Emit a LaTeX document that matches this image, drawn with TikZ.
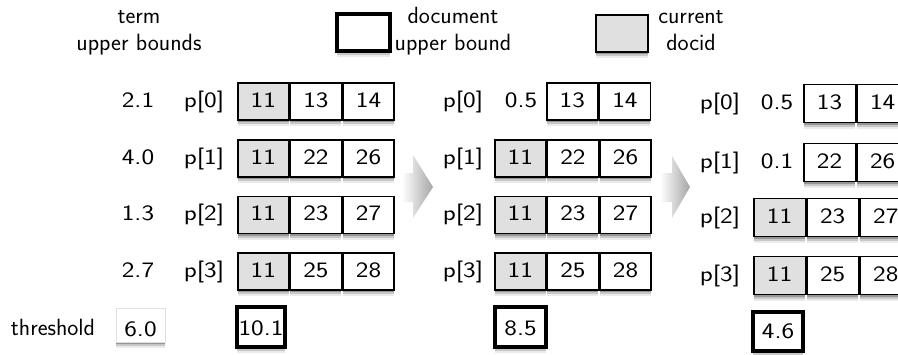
\documentclass[tikz,border=0pt]{standalone}
\usetikzlibrary{shadows}
\definecolor{cellgray}{RGB}{224,224,224}
\definecolor{arrowgray}{RGB}{165,165,165}
\newcommand\R[1]{\scalebox{1.22}[1]{#1}}
\begin{document}
\begin{tikzpicture}[x=1pt,y=-1pt,
  font=\sffamily\fontsize{22}{26}\selectfont,
  shad/.style={drop shadow={shadow xshift=0pt, shadow yshift=-6pt, opacity=0.08, fill=black},
               drop shadow={shadow xshift=0pt, shadow yshift=-4pt, opacity=0.15, fill=black},
               drop shadow={shadow xshift=0pt, shadow yshift=-2pt, opacity=0.25, fill=black}},
  cell/.style={draw, line width=1.6pt, minimum width=51pt, minimum height=37pt, inner sep=0pt,
    text height=14.3pt, text depth=3pt, fill=white, shad, anchor=west},
  cur/.style={cell, fill=cellgray},
  cellC/.style={cell, minimum width=51.5pt, minimum height=38pt},
  curC/.style={cellC, fill=cellgray},
  lbl/.style={inner sep=0pt, text height=14.3pt, text depth=3pt},
  leg/.style={inner sep=0pt, anchor=base, font=\sffamily\fontsize{23.5}{28}\selectfont},
  ubbox/.style={draw, line width=3.5pt, fill=white, shad, inner sep=0pt,
    minimum width=50pt, minimum height=40pt, text height=17pt, text depth=0pt},
  chev/.style={left color=white, right color=arrowgray}
]
\useasboundingbox (0,0) rectangle (898,354);
\fill[white] (0,0) rectangle (898,354);

% legend
\node[leg] (lt1) at (139,23) {term};
\node[leg] (lt2) at (139,50) {upper bounds};
\node[ubbox, minimum width=53pt, minimum height=37pt] (legub) at (363.5,32.5) {};
\node[leg] (ld1) at (453,23) {document};
\node[leg] (ld2) at (453,50) {upper bound};
\node[draw, line width=1.6pt, fill=cellgray, shad, inner sep=0pt, minimum width=52pt, minimum height=37pt] (legcur) at (622,33.5) {};
\node[leg] (lc1) at (691,23) {current};
\node[leg] (lc2) at (691,50) {docid};

% column 1
\node[lbl] (u0) at (138,101.5) {\R{2.1}};
\node[lbl] (u1) at (138,158.5) {\R{4.0}};
\node[lbl] (u2) at (138,215) {\R{1.3}};
\node[lbl] (u3) at (138,271.5) {\R{2.7}};
\node[lbl] (pA0) at (204,101.5) {\R{p[0]}};
\node[lbl] (pA1) at (204,158.5) {\R{p[1]}};
\node[lbl] (pA2) at (204,215) {\R{p[2]}};
\node[lbl] (pA3) at (204,271.5) {\R{p[3]}};
\node[cur] (A0a) at (237,101.5) {\R{11}};
\node[cell] (A0b) at (A0a.east) {\R{13}};
\node[cell] (A0c) at (A0b.east) {\R{14}};
\node[cur] (A1a) at (237,158.5) {\R{11}};
\node[cell] (A1b) at (A1a.east) {\R{22}};
\node[cell] (A1c) at (A1b.east) {\R{26}};
\node[cur] (A2a) at (237,215) {\R{11}};
\node[cell] (A2b) at (A2a.east) {\R{23}};
\node[cell] (A2c) at (A2b.east) {\R{27}};
\node[cur] (A3a) at (237,271.5) {\R{11}};
\node[cell] (A3b) at (A3a.east) {\R{25}};
\node[cell] (A3c) at (A3b.east) {\R{28}};
\node[ubbox, minimum width=48pt] (ubA) at (261,327) {\R{10.1}};

% threshold
\node[leg] (thr) at (53,335) {threshold};
\node[draw=black!12, line width=0.8pt, fill=white, shad, inner sep=0pt, minimum width=49pt, minimum height=34pt,
  text height=23pt, text depth=0pt] (thv) at (140.5,325) {\R{6.0}};

% arrow 1
\shade[chev] (402,173) -- (413,173) -- (413,155) -- (433,187) -- (413,218) -- (413,202) -- (402,202) -- cycle;

% column 2
\node[lbl] (pB0) at (463,101.5) {\R{p[0]}};
\node[lbl] (pB1) at (463,158.5) {\R{p[1]}};
\node[lbl] (pB2) at (463,215) {\R{p[2]}};
\node[lbl] (pB3) at (463,271.5) {\R{p[3]}};
\node[lbl] (vB0) at (521,101.5) {\R{0.5}};
\node[cell] (B0b) at (546,101.5) {\R{13}};
\node[cell] (B0c) at (B0b.east) {\R{14}};
\node[cur] (B1a) at (494,158.5) {\R{11}};
\node[cell] (B1b) at (B1a.east) {\R{22}};
\node[cell] (B1c) at (B1b.east) {\R{26}};
\node[cur] (B2a) at (494,215) {\R{11}};
\node[cell] (B2b) at (B2a.east) {\R{23}};
\node[cell] (B2c) at (B2b.east) {\R{27}};
\node[cur] (B3a) at (494,271.5) {\R{11}};
\node[cell] (B3b) at (B3a.east) {\R{25}};
\node[cell] (B3c) at (B3b.east) {\R{28}};
\node[ubbox, minimum width=51pt] (ubB) at (520.5,327) {\R{8.5}};

% arrow 2
\shade[chev] (660,173) -- (672,173) -- (672,156) -- (690,187) -- (672,218) -- (672,202) -- (660,202) -- cycle;

% column 3
\node[lbl] (pC0) at (720,103.5) {\R{p[0]}};
\node[lbl] (pC1) at (720,162.5) {\R{p[1]}};
\node[lbl] (pC2) at (720,217.5) {\R{p[2]}};
\node[lbl] (pC3) at (720,275.5) {\R{p[3]}};
\node[lbl] (vC0) at (777,103.5) {\R{0.5}};
\node[lbl] (vC1) at (777,162.5) {\R{0.1}};
\node[cellC] (C0b) at (803,103.5) {\R{13}};
\node[cellC] (C0c) at (C0b.east) {\R{14}};
\node[cellC] (C1b) at (803,162.5) {\R{22}};
\node[cellC] (C1c) at (C1b.east) {\R{26}};
\node[curC] (C2a) at (753,217.5) {\R{11}};
\node[cellC] (C2b) at (C2a.east) {\R{23}};
\node[cellC] (C2c) at (C2b.east) {\R{27}};
\node[curC] (C3a) at (753,275.5) {\R{11}};
\node[cellC] (C3b) at (C3a.east) {\R{25}};
\node[cellC] (C3c) at (C3b.east) {\R{28}};
\node[ubbox, minimum width=50pt, minimum height=39pt, text height=14.3pt] (ubC) at (778,331.5) {\R{4.6}};
\end{tikzpicture}
\end{document}
